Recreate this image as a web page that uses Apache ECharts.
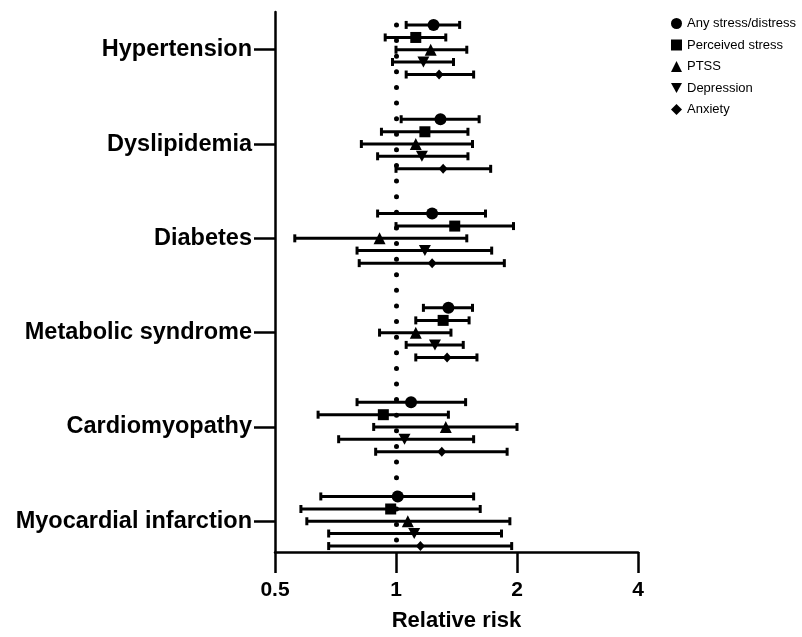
<!DOCTYPE html>
<html>
<head>
<meta charset="utf-8">
<script src="https://cdn.jsdelivr.net/npm/echarts@6/dist/echarts.min.js"></script>
<style>html,body{margin:0;padding:0;background:#fff}#c{width:802px;height:637px}</style>
</head>
<body>
<div id="c"></div>
<script>
const categories = ['Hypertension','Dyslipidemia','Diabetes','Metabolic syndrome','Cardiomyopathy','Myocardial infarction'];
const xTicks = [0.5, 1, 2, 4];
const seriesNames = ['Any stress/distress','Perceived stress','PTSS','Depression','Anxiety'];

const anyEst = [1.24, 1.29, 1.23, 1.35, 1.09, 1.01];
const anyLo  = [1.06, 1.03, 0.90, 1.17, 0.80, 0.65];
const anyHi  = [1.44, 1.61, 1.67, 1.55, 1.49, 1.56];

const percEst = [1.12, 1.18, 1.40, 1.31, 0.93, 0.97];
const percLo  = [0.94, 0.92, 1.00, 1.12, 0.64, 0.58];
const percHi  = [1.33, 1.51, 1.96, 1.52, 1.35, 1.62];

const ptssEst = [1.22, 1.12, 0.91, 1.12, 1.33, 1.07];
const ptssLo  = [1.00, 0.82, 0.56, 0.91, 0.88, 0.60];
const ptssHi  = [1.50, 1.55, 1.50, 1.37, 2.00, 1.92];

const depEst = [1.17, 1.16, 1.18, 1.25, 1.05, 1.11];
const depLo  = [0.98, 0.90, 0.80, 1.06, 0.72, 0.68];
const depHi  = [1.39, 1.51, 1.73, 1.47, 1.56, 1.83];

const anxEst = [1.28, 1.31, 1.23, 1.34, 1.30, 1.15];
const anxLo  = [1.06, 1.00, 0.81, 1.12, 0.89, 0.68];
const anxHi  = [1.56, 1.72, 1.86, 1.59, 1.89, 1.94];

const groups = [
  {name: seriesNames[0], est: anyEst, lo: anyLo, hi: anyHi, symbol: 'circle', size: 12, off: -0.263},
  {name: seriesNames[1], est: percEst, lo: percLo, hi: percHi, symbol: 'rect', size: 11, off: -0.13},
  {name: seriesNames[2], est: ptssEst, lo: ptssLo, hi: ptssHi, symbol: 'triangle', size: 12, off: 0},
  {name: seriesNames[3], est: depEst, lo: depLo, hi: depHi, symbol: 'path://M0,0 L10,0 L5,9 Z', size: [12, 11], off: 0.13},
  {name: seriesNames[4], est: anxEst, lo: anxLo, hi: anxHi, symbol: 'diamond', size: [9, 10], off: 0.263}
];

const FONT = 'Liberation Sans, Arial, Helvetica, sans-serif';
const series = [];

groups.forEach(function (g) {
  series.push({
    type: 'custom',
    name: g.name + ' CI',
    silent: true,
    z: 2,
    encode: {x: [1, 2], y: 0},
    data: categories.map(function (c, i) { return [i + g.off, g.lo[i], g.hi[i]]; }),
    renderItem: function (params, api) {
      const y = api.value(0);
      const p1 = api.coord([api.value(1), y]);
      const p2 = api.coord([api.value(2), y]);
      const h = 4;
      const st = {stroke: '#000', lineWidth: 3};
      return {
        type: 'group',
        children: [
          {type: 'line', shape: {x1: p1[0], y1: p1[1], x2: p2[0], y2: p2[1]}, style: st},
          {type: 'line', shape: {x1: p1[0], y1: p1[1] - h, x2: p1[0], y2: p1[1] + h}, style: st},
          {type: 'line', shape: {x1: p2[0], y1: p2[1] - h, x2: p2[0], y2: p2[1] + h}, style: st}
        ]
      };
    }
  });
});

groups.forEach(function (g, k) {
  const s = {
    type: 'scatter',
    name: g.name,
    z: 3,
    symbol: g.symbol,
    symbolSize: g.size,
    itemStyle: {color: '#000', opacity: 1},
    data: categories.map(function (c, i) { return [g.est[i], i + g.off]; })
  };
  if (k === 0) {
    s.markLine = {
      silent: true,
      symbol: 'none',
      label: {show: false},
      lineStyle: {color: '#000', width: 5, type: [0.01, 15.6], cap: 'round'},
      data: [[{coord: [1, 5.2]}, {coord: [1, -0.38]}]]
    };
  }
  series.push(s);
});

const chart = echarts.init(document.getElementById('c'));
chart.setOption({
  animation: false,
  backgroundColor: '#fff',
  textStyle: {fontFamily: FONT},
  grid: {left: 275, right: 164, top: 12, bottom: 81, containLabel: false},
  legend: {
    data: seriesNames.map(function (n, k) { return {name: n, icon: groups[k].symbol}; }),
    orient: 'vertical',
    left: 666,
    top: 12,
    itemWidth: 11,
    itemHeight: 11,
    itemGap: 8.5,
    selectedMode: false,
    itemStyle: {color: '#000'},
    textStyle: {fontSize: 13, color: '#000', fontFamily: FONT}
  },
  xAxis: {
    type: 'log',
    logBase: 2,
    min: xTicks[0],
    max: xTicks[xTicks.length - 1],
    name: 'Relative risk',
    nameLocation: 'middle',
    nameGap: 58,
    nameTextStyle: {fontSize: 22, fontWeight: 'bold', color: '#000', fontFamily: FONT},
    axisLine: {onZero: false, lineStyle: {color: '#000', width: 2.5}},
    axisTick: {length: 21, lineStyle: {color: '#000', width: 2.5}, customValues: xTicks},
    axisLabel: {fontSize: 21, fontWeight: 'bold', color: '#000', margin: 28, fontFamily: FONT, customValues: xTicks,
      formatter: function (v) { return String(v); }},
    splitLine: {show: false},
    minorTick: {show: false}
  },
  yAxis: {
    type: 'value',
    inverse: true,
    min: -0.4,
    max: 5.326,
    axisLine: {show: true, onZero: false, lineStyle: {color: '#000', width: 2.5}},
    axisTick: {show: true, length: 21, lineStyle: {color: '#000', width: 2.5}, customValues: [0, 1, 2, 3, 4, 5]},
    axisLabel: {fontSize: 23.5, fontWeight: 'bold', color: '#000', margin: 23, fontFamily: FONT,
      customValues: [0, 1, 2, 3, 4, 5],
      formatter: function (v) { return categories[Math.round(v)] || ''; }},
    splitLine: {show: false}
  },
  series: series
});
</script>
</body>
</html>
